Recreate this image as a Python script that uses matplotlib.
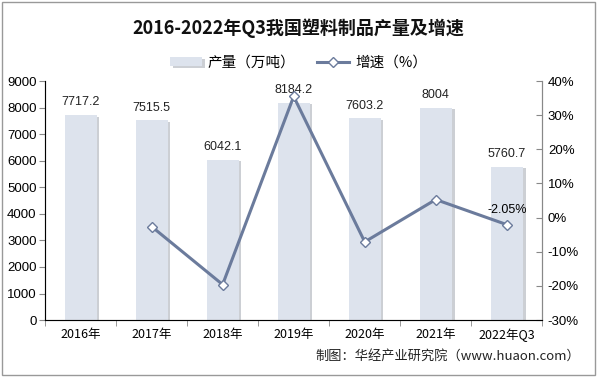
import matplotlib.pyplot as plt
import matplotlib.patheffects as pe
from matplotlib.patches import Rectangle

plt.rcParams['font.family'] = ['Noto Sans CJK SC', 'DejaVu Sans']

years = ['2016年', '2017年', '2018年', '2019年', '2020年', '2021年', '2022年Q3']
output = [7717.2, 7515.5, 6042.1, 8184.2, 7603.2, 8004, 5760.7]
growth = [None, -2.6, -19.6, 35.5, -7.1, 5.3, -2.05]

bar_color = '#dde3ed'
line_color = '#6b7b9c'

fig = plt.figure(figsize=(5.97, 3.77), dpi=100)
ax = fig.add_axes([0.0754, 0.151, 0.833, 0.634])
x = list(range(len(years)))
bars = ax.bar(x, output, width=0.45, color=bar_color, label='产量（万吨）', zorder=2)
for b in bars:
    b.set_path_effects([pe.SimplePatchShadow(offset=(2, -1), shadow_rgbFace='#9aa0aa', alpha=0.5), pe.Normal()])
for xi, v in zip(x, output):
    ax.text(xi, v + 250, f'{v:g}', ha='center', va='bottom', fontsize=9, color='#222222', family='Liberation Sans')

ax.set_ylim(0, 9000)
ax.set_yticks(range(0, 9001, 1000))
ax.set_xlim(-0.5, len(years) - 0.5)
ax.set_xticks(x)
ax.set_xticklabels(years, fontsize=9)
ax.set_xticks([i - 0.5 for i in range(len(years) + 1)], minor=True)
ax.tick_params(axis='x', which='major', length=0, pad=6)
ax.tick_params(axis='x', which='minor', length=4, color='#888888')
ax.tick_params(axis='y', length=4, color='#888888', labelsize=9.5, pad=2)
for lab in ax.get_yticklabels():
    lab.set_family('Liberation Sans')
ax.spines['top'].set_visible(False)
for s in ['left', 'bottom', 'right']:
    ax.spines[s].set_color('#888888')

ax2 = ax.twinx()
gx = [xi for xi, g in zip(x, growth) if g is not None]
gy = [g for g in growth if g is not None]
ax2.plot(gx, gy, color=line_color, lw=2.2, marker='D', ms=5, mfc='white', mec=line_color, mew=1,
         label='增速（%）', zorder=3)
ax2.set_ylim(-30, 40)
ax2.set_yticks(range(-30, 41, 10))
ax2.set_yticklabels([f'{t}%' for t in range(-30, 41, 10)], fontsize=9.5, family='Liberation Sans')
ax2.tick_params(axis='y', direction='in', length=4, color='#888888', pad=4)
ax2.spines['top'].set_visible(False)
ax2.spines['right'].set_color('#888888')
ax2.text(gx[-1], gy[-1] + 2.5, '-2.05%', ha='center', va='bottom', fontsize=9, family='Liberation Sans')

h1, l1 = ax.get_legend_handles_labels()
h2, l2 = ax2.get_legend_handles_labels()
fig.legend(h1 + h2, l1 + l2, loc='center', bbox_to_anchor=(0.5, 0.833), ncol=2, frameon=False,
           fontsize=10.5, handlelength=2.2, handleheight=0.6, columnspacing=1.5, handletextpad=0.4)

fig.text(0.5, 0.925, '2016-2022年Q3我国塑料制品产量及增速', ha='center', va='center', fontsize=13,
         fontweight='bold', color='#111111')
fig.text(0.972, 0.055, '制图：华经产业研究院（www.huaon.com）', ha='right', va='center', fontsize=9.5,
         color='#222222')

fig.patches.append(Rectangle((0.003, 0.006), 0.994, 0.988, transform=fig.transFigure, fill=False,
                             edgecolor='#999999', lw=1))

fig.savefig('out.png', dpi=100)
